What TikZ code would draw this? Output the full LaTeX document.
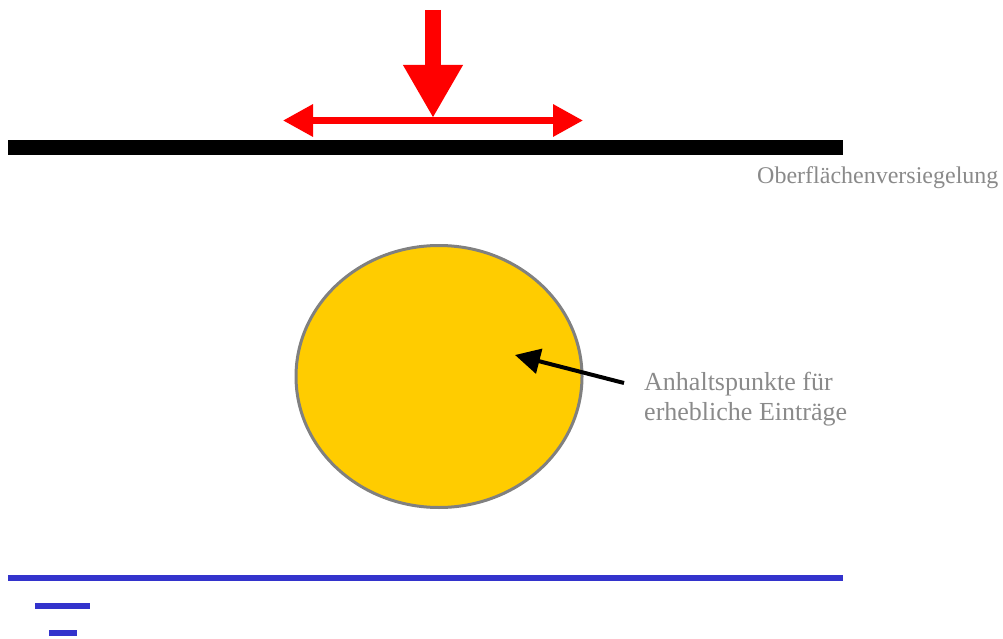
\documentclass[tikz,border=0pt]{standalone}
\usepackage{fontspec}
\setmainfont{Liberation Serif}
\usetikzlibrary{arrows.meta,shapes.geometric}
\definecolor{load}{HTML}{FF0000}
\definecolor{spot}{HTML}{FFCC00}
\definecolor{rim}{HTML}{808080}
\definecolor{water}{HTML}{3333CC}
\definecolor{note}{HTML}{8A8A8A}

\begin{document}
\begin{tikzpicture}[x=1pt, y=-1pt, >=Latex,
  lab/.style={text=note, align=left, inner sep=0pt, anchor=base west},
  bar/.style={line width=15pt, draw=black},
  gw/.style={line width=6pt, draw=water},
  push/.style={draw=load, line width=16pt, -{Triangle[width=56pt, length=53pt]}},
  spread/.style={draw=load, line width=6.5pt, {Triangle[width=31pt, length=30pt]}-{Triangle[width=31pt, length=30pt]}},
  hint/.style={draw=black, line width=4pt, -{Triangle[width=25pt, length=25pt]}}
]
\useasboundingbox (0,0) rectangle (1003,639);
% sealed surface and load from above
\coordinate (sealL) at (8,148);
\coordinate (sealR) at (843,148);
\draw[bar] (sealL) -- (sealR);
\node[lab, font=\fontsize{24}{29}\selectfont] (seal) at (757,183) {Oberflächenversiegelung};
\coordinate (pushtop) at (433,10);
\coordinate (pushtip) at (433,118);
\coordinate (spreadL) at (283,120.5);
\coordinate (spreadR) at (583,120.5);
\draw[spread] (spreadL) -- (spreadR);
\draw[push] (pushtop) -- (pushtip);
% contaminated spot
\node[ellipse, draw=rim, line width=3pt, fill=spot, inner sep=0pt,
      minimum width=286pt, minimum height=262pt] (spot) at (439,376.5) {};
\node[lab, font=\fontsize{26}{30}\selectfont] (note) at (644,420) {Anhaltspunkte für\\erhebliche Einträge};
\coordinate (hintfrom) at (624,383);
\coordinate (hintto) at (515,355);
\draw[hint] (hintfrom) -- (hintto);
% groundwater table
\coordinate (gwL) at (8,578);
\coordinate (gwR) at (843,578);
\draw[gw] (gwL) -- (gwR);
\coordinate (tickaL) at (35,606);
\coordinate (tickaR) at (90,606);
\coordinate (tickbL) at (49,633);
\coordinate (tickbR) at (77,633);
\draw[gw] (tickaL) -- (tickaR);
\draw[gw] (tickbL) -- (tickbR);
\end{tikzpicture}
\end{document}
